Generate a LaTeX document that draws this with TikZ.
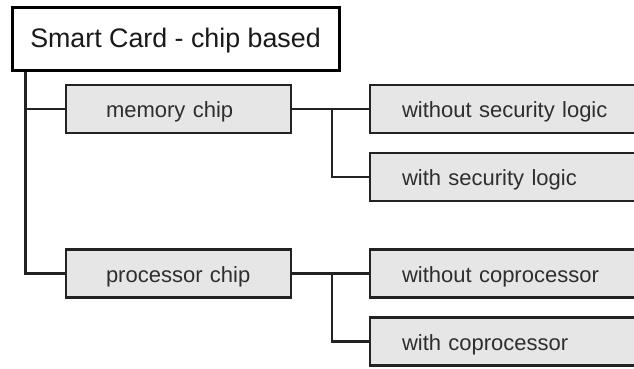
\documentclass[tikz,border=0pt]{standalone}
\usepackage{fontspec}
\setmainfont{Liberation Sans}
\definecolor{boxfill}{HTML}{E6E6E6}
\definecolor{linecol}{HTML}{222222}
\definecolor{labelcol}{HTML}{2E2E2E}
\begin{document}
\begin{tikzpicture}[x=1pt,y=-1pt,
  titlebox/.style={draw=black, line width=3pt, fill=white, rectangle,
    minimum width=327pt, minimum height=63pt, inner sep=0pt,
    text height=17pt, text depth=0pt,
    font=\fontsize{26.8}{30}\selectfont, text=black!90},
  midbox/.style={draw=linecol, line width=2.4pt, fill=boxfill, rectangle,
    minimum width=225pt, minimum height=48pt, inner xsep=40pt, inner ysep=0pt,
    text height=17pt, text depth=0pt,
    text width=145pt, align=left, font=\fontsize{22}{26}\selectfont, text=labelcol},
  leafbox/.style={draw=linecol, line width=2.4pt, fill=boxfill, rectangle,
    minimum width=280pt, minimum height=48pt, inner xsep=32pt, inner ysep=0pt,
    text height=17pt, text depth=0pt,
    text width=216pt, align=left, font=\fontsize{22}{26}\selectfont, text=labelcol},
  link/.style={draw=linecol, line width=2.4pt}]
  \clip (0,0) rectangle (634,368);
  \fill[white] (0,0) rectangle (634,368);

  % boxes
  \node[titlebox] (card) at (175.5,38.5) {Smart Card - chip based};
  \node[midbox] (mem) at (178.5,109) {memory chip};
  \node[midbox] (proc) at (178.5,273.5) {processor chip};
  \node[leafbox] (nosec) at (510,109) {without security logic};
  \node[leafbox] (sec) at (510,177) {with security logic};
  \node[leafbox] (nocop) at (510,273.5) {without coprocessor};
  \node[leafbox] (cop) at (510,341.5) {with coprocessor};

  % tree connectors
  \draw[link] ([xshift=15pt]card.south west) |- (mem.west);
  \draw[link] ([xshift=15pt]card.south west) |- (proc.west);
  \draw[link] (mem.east) -- (nosec.west);
  \draw[link] ([xshift=40pt]mem.east) |- (sec.west);
  \draw[link] (proc.east) -- (nocop.west);
  \draw[link] ([xshift=40pt]proc.east) |- (cop.west);
\end{tikzpicture}
\end{document}
